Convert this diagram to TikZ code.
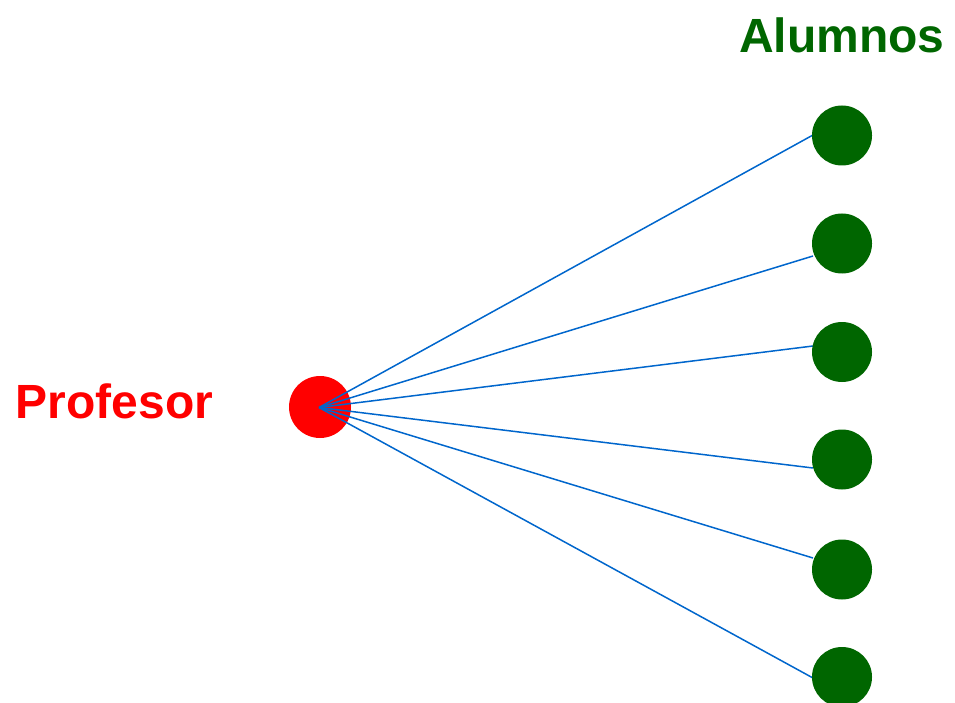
\documentclass[tikz,border=0pt]{standalone}
\usepackage{fontspec}
\setmainfont{Liberation Sans}
\definecolor{prof}{HTML}{FF0000}
\definecolor{alum}{HTML}{006600}
\definecolor{link}{HTML}{0066CC}
\begin{document}
\begin{tikzpicture}[x=1pt,y=-1pt,
  profdot/.style={circle,fill=prof,minimum size=62pt,inner sep=0pt},
  alumdot/.style={circle,fill=alum,minimum size=60pt,inner sep=0pt},
  conn/.style={draw=link,line width=1.5pt},
  biglabel/.style={font=\fontsize{48}{52}\selectfont\bfseries,inner sep=0pt,anchor=base}]
\useasboundingbox (0,0) rectangle (955,703);
\node[profdot] (p) at (320,407) {};
\coordinate (pc) at (319,407.5);
\foreach \i/\y/\e in {1/135.5/135,2/243.5/256,3/352/346,4/459.5/468,5/569.5/558,6/677/678}{
  \coordinate (e\i) at (813,\e);
  \draw[conn] (pc) -- (e\i);
  \node[alumdot] (a\i) at (842,\y) {};
}
\node[biglabel,text=alum] (lblA) at (842,53) {Alumnos};
\node[biglabel,text=prof] (lblP) at (114.5,418) {Profesor};
\end{tikzpicture}
\end{document}
